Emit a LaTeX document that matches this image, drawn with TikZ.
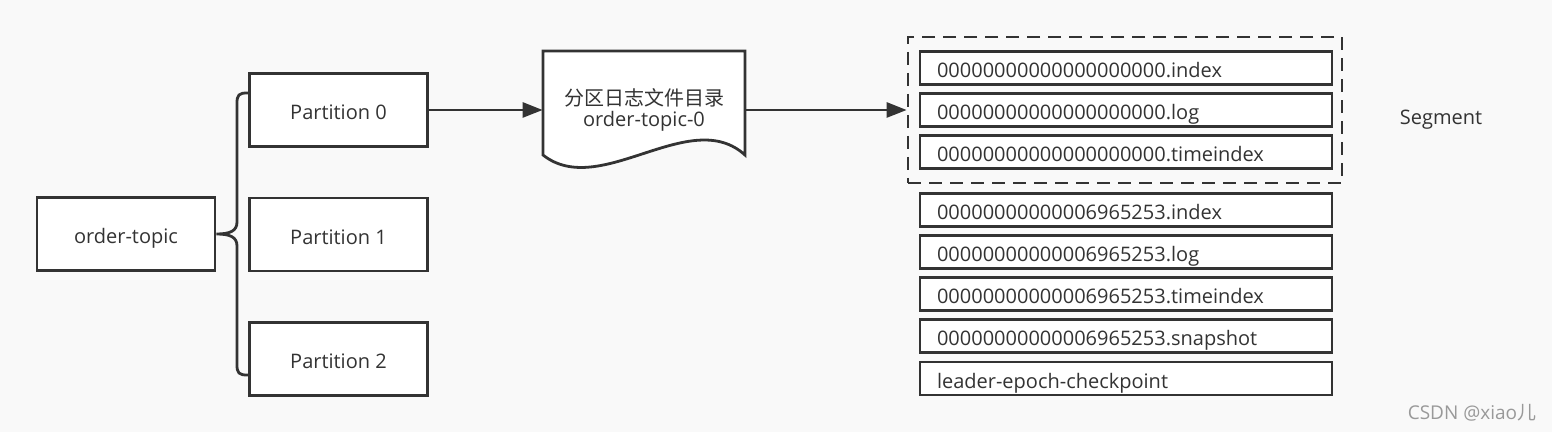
\documentclass[tikz,border=0pt]{standalone}
\usepackage{xcolor}
\usepackage{fontspec}
\setmainfont{Open Sans}
\newfontfamily\cjkfont{Noto Sans CJK SC}
\usetikzlibrary{arrows.meta}

\definecolor{edgegray}{HTML}{333333}
\definecolor{paper}{HTML}{F9F9F9}

\begin{document}
\begin{tikzpicture}[x=0.5pt,y=-0.5pt,
    font=\fontsize{10}{12}\selectfont, text=edgegray,
    box/.style={draw=edgegray,line width=1.4pt,fill=white,minimum width=89pt,minimum height=36.5pt,
        text height=10pt,text depth=0pt},
    filebox/.style={draw=edgegray,line width=1.4pt,fill=white,minimum width=206pt,minimum height=16.5pt,
        text width=189pt,inner xsep=8.5pt,inner ysep=0pt,align=left,text height=10pt,text depth=0pt},
    link/.style={draw=edgegray,line width=1.4pt},
    arr/.style={link,-{Triangle[length=10pt,width=7.5pt]}}]
    \useasboundingbox[fill=paper] (0,0) rectangle (1552,432);

    % topic and its partitions
    \node[box] (topic) at (126,234) {order-topic};
    \node[box] (p0) at (338.5,110) {Partition 0};
    \node[box] (p1) at (338.5,234.5) {Partition 1};
    \node[box] (p2) at (338.5,359) {Partition 2};
    \draw[link] (p0.west |- 0,93) -- (247,93) .. controls (239,93) and (237,95) .. (237,103)
        -- (237,222) .. controls (237,231) and (230,234) .. (topic.east)
        .. controls (230,234) and (237,237) .. (237,246) -- (237,365)
        .. controls (237,373) and (239,375) .. (247,375) -- (p2.west |- 0,375);

    % partition directory
    \draw[link,fill=white] (543,51) -- (745,51) -- (745,155)
        .. controls (690,105) and (600,200) .. (543,155) -- cycle;
    \node[minimum width=101pt,align=center,font=\fontsize{10}{10.5}\selectfont] (doc) at (644,110)
        {{\cjkfont 分区日志文件目录}\\order-topic-0};
    \draw[arr] (p0.east) -- (p0.east -| doc.west);

    % segment files
    \node[link,dash pattern=on 6.5pt off 4pt,minimum width=217pt,minimum height=73pt] (seg) at (1125,110) {};
    \draw[arr] (doc.east |- p0.east) -- (seg.west);
    \node[filebox] (f1) at (1126,68) {00000000000000000000.index};
    \node[filebox] (f2) at (1126,110) {00000000000000000000.log};
    \node[filebox] (f3) at (1126,152) {00000000000000000000.timeindex};
    \node[filebox] (f4) at (1126,210) {00000000000006965253.index};
    \node[filebox] (f5) at (1126,252) {00000000000006965253.log};
    \node[filebox] (f6) at (1126,294) {00000000000006965253.timeindex};
    \node[filebox] (f7) at (1126,336) {00000000000006965253.snapshot};
    \node[filebox] (f8) at (1126,378.5) {leader-epoch-checkpoint};
    \node (seglabel) at (1441,120) {Segment};

    \node[text=black!40,font=\fontsize{9.5}{11}\selectfont] (mark) at (1472,413) {CSDN @xiao{\cjkfont 儿}};
\end{tikzpicture}
\end{document}
